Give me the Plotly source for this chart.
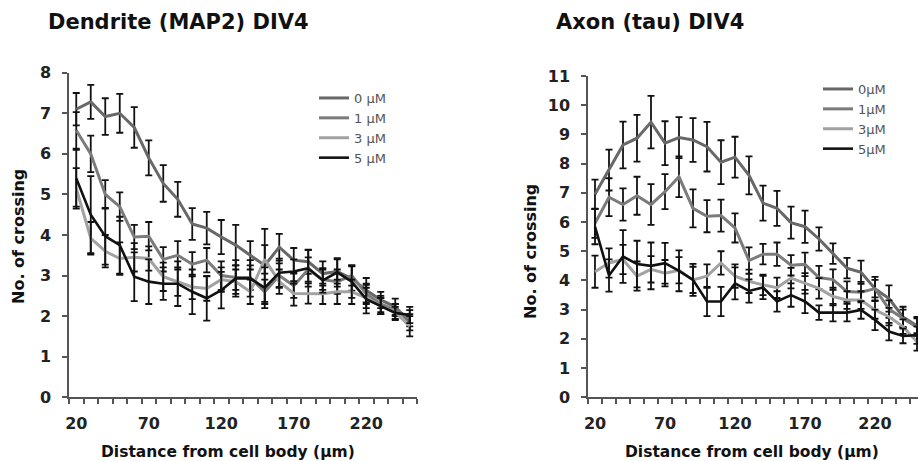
import plotly.graph_objects as go

W, H = 918, 461

distance = list(range(20, 251, 10))
x_ticks = [20, 70, 120, 170, 220]
legend_names_d = ["0 μM", "1 μM", "3 μM", "5 μM"]
legend_names_a = ["0μM", "1μM", "3μM", "5μM"]

# Dendrite (MAP2) DIV4
dend_0 = [7.1, 7.28, 6.92, 7.0, 6.65, 5.9, 5.27, 4.88, 4.27, 4.17, 3.95, 3.75, 3.5, 3.25, 3.7, 3.38, 3.34, 3.05, 3.1, 2.93, 2.64, 2.4, 2.23, 1.85]
dend_0_err = [0.4, 0.42, 0.45, 0.48, 0.5, 0.43, 0.45, 0.43, 0.39, 0.4, 0.42, 0.5, 0.35, 0.9, 0.33, 0.3, 0.3, 0.3, 0.3, 0.3, 0.3, 0.2, 0.2, 0.2]
dend_1 = [6.58, 6.0, 5.0, 4.7, 3.95, 3.97, 3.4, 3.5, 3.28, 3.38, 3.0, 2.95, 2.95, 2.6, 3.0, 2.75, 3.15, 2.9, 2.85, 3.0, 2.55, 2.3, 2.15, 1.95]
dend_1_err = [0.45, 0.45, 0.35, 0.35, 0.3, 0.35, 0.3, 0.35, 0.3, 0.3, 0.35, 0.3, 0.3, 0.3, 0.3, 0.3, 0.3, 0.25, 0.3, 0.25, 0.25, 0.2, 0.15, 0.2]
dend_3 = [5.15, 3.92, 3.6, 3.42, 3.45, 3.42, 2.97, 2.85, 2.72, 2.68, 2.9, 2.85, 2.6, 3.4, 2.85, 2.56, 2.56, 2.55, 2.6, 2.6, 2.45, 2.25, 2.1, 1.75]
dend_3_err = [0.5, 0.4, 0.4, 0.4, 0.35, 0.3, 0.35, 0.35, 0.3, 0.3, 0.3, 0.3, 0.3, 0.35, 0.3, 0.3, 0.25, 0.25, 0.3, 0.3, 0.25, 0.2, 0.2, 0.25]
dend_5 = [5.4, 4.5, 3.97, 3.75, 2.97, 2.85, 2.8, 2.8, 2.6, 2.44, 2.64, 2.93, 2.93, 2.7, 3.07, 3.1, 3.18, 2.88, 3.08, 2.85, 2.42, 2.25, 2.08, 2.03]
dend_5_err = [0.7, 0.95, 0.7, 0.7, 0.6, 0.55, 0.4, 0.55, 0.55, 0.55, 0.45, 0.45, 0.45, 0.5, 0.35, 0.3, 0.45, 0.3, 0.35, 0.4, 0.35, 0.2, 0.15, 0.2]

# Axon (tau) DIV4
axon_0 = [6.95, 7.78, 8.64, 8.87, 9.42, 8.7, 8.89, 8.81, 8.58, 8.05, 8.22, 7.6, 6.65, 6.47, 5.98, 5.84, 5.42, 4.92, 4.42, 4.28, 3.72, 3.38, 2.75, 2.45]
axon_0_err = [0.5, 0.7, 0.8, 0.8, 0.9, 0.75, 0.7, 0.75, 0.85, 0.75, 0.7, 0.65, 0.6, 0.6, 0.55, 0.55, 0.4, 0.35, 0.35, 0.4, 0.4, 0.45, 0.35, 0.3]
axon_1 = [5.96, 6.85, 6.6, 6.9, 6.6, 7.04, 7.55, 6.47, 6.2, 6.22, 5.8, 4.68, 4.9, 4.9, 4.52, 4.55, 4.1, 4.03, 3.62, 3.6, 3.72, 3.02, 2.7, 2.4]
axon_1_err = [0.5, 0.65, 0.55, 0.65, 0.7, 0.6, 0.7, 0.65, 0.55, 0.55, 0.5, 0.45, 0.35, 0.4, 0.35, 0.4, 0.4, 0.35, 0.35, 0.35, 0.3, 0.3, 0.3, 0.3]
axon_3 = [4.3, 4.6, 4.72, 4.15, 4.38, 4.25, 4.35, 4.02, 4.15, 4.6, 4.15, 3.97, 3.85, 3.75, 4.08, 3.9, 3.73, 3.45, 3.33, 3.33, 2.99, 2.76, 2.42, 1.9]
axon_3_err = [0.55, 0.5, 0.5, 0.5, 0.45, 0.45, 0.45, 0.45, 0.4, 0.4, 0.4, 0.4, 0.35, 0.35, 0.35, 0.35, 0.35, 0.3, 0.3, 0.3, 0.3, 0.3, 0.25, 0.3]
axon_5 = [5.84, 4.17, 4.82, 4.56, 4.5, 4.59, 4.33, 4.02, 3.28, 3.28, 3.9, 3.64, 3.76, 3.28, 3.5, 3.28, 2.9, 2.9, 2.9, 2.99, 2.65, 2.25, 2.1, 2.13]
axon_5_err = [0.6, 0.55, 0.9, 0.8, 0.8, 0.7, 0.7, 0.55, 0.5, 0.5, 0.55, 0.4, 0.4, 0.35, 0.4, 0.4, 0.25, 0.3, 0.3, 0.3, 0.35, 0.3, 0.25, 0.3]

colors = ["#686868", "#7b7b7b", "#a2a2a2", "#111111"]
widths = [3, 3, 3, 2.6]
FONT = "DejaVu Sans"

fig = go.Figure()

def add_series(ys, errs, names, xa, ya, leg):
    for y, e, n, c, w in zip(ys, errs, names, colors, widths):
        fig.add_trace(go.Scatter(
            x=distance, y=y, mode="lines", name=n,
            line=dict(color=c, width=w),
            error_y=dict(type="data", array=e, visible=True, color="#111111", thickness=1.8, width=3.5),
            xaxis=xa, yaxis=ya, legend=leg,
        ))

add_series([dend_0, dend_1, dend_3, dend_5], [dend_0_err, dend_1_err, dend_3_err, dend_5_err],
           legend_names_d, "x", "y", "legend")
add_series([axon_0, axon_1, axon_3, axon_5], [axon_0_err, axon_1_err, axon_3_err, axon_5_err],
           legend_names_a, "x2", "y2", "legend2")

def px_x(p):
    return p / W

def px_y(p):
    return 1 - p / H

axis_common = dict(showline=True, linecolor="#555555", linewidth=1.5, showgrid=False, zeroline=False,
                   automargin=False,
                   tickfont=dict(family=FONT, size=16, color="#222222", weight="bold"))

x_common = dict(axis_common, tickmode="array", tickvals=x_ticks, ticks="", ticklabelstandoff=11,
                minor=dict(tick0=15, dtick=10, ticks="outside", ticklen=5, tickwidth=1.5,
                           tickcolor="#555555", showgrid=False))
y_common = dict(axis_common, ticks="outside", ticklen=5, tickwidth=1.5, tickcolor="#555555", dtick=1,
                ticklabelstandoff=8)

fig.update_layout(
    width=W, height=H, margin=dict(l=0, r=0, t=0, b=0, autoexpand=False),
    paper_bgcolor="white", plot_bgcolor="white",
    showlegend=True,
    xaxis=dict(x_common, domain=[px_x(69), px_x(417)], range=[15, 255], anchor="y"),
    yaxis=dict(y_common, domain=[px_y(397.3), px_y(72.7)], range=[0, 8], anchor="x"),
    xaxis2=dict(x_common, domain=[px_x(588), 1.0], range=[15, 15 + (918 - 588) / 14 * 10], anchor="y2"),
    yaxis2=dict(y_common, domain=[px_y(397.3), px_y(76)], range=[0, 11], anchor="x2"),
    legend=dict(x=px_x(314), y=px_y(83), xanchor="left", yanchor="top", bgcolor="rgba(0,0,0,0)",
                font=dict(family=FONT, size=13, color="#555555"), tracegroupgap=0, itemwidth=30),
    legend2=dict(x=px_x(818), y=px_y(74), xanchor="left", yanchor="top", bgcolor="rgba(0,0,0,0)",
                 font=dict(family=FONT, size=13, color="#555555"), tracegroupgap=0, itemwidth=30),
)

def ann(text, x, y, size, xanchor="center", angle=0):
    fig.add_annotation(text=text, x=px_x(x), y=px_y(y), xref="paper", yref="paper",
                       xanchor=xanchor, yanchor="middle", showarrow=False, textangle=angle,
                       font=dict(family=FONT, size=size, color="#111111", weight="bold"))

ann("Dendrite (MAP2) DIV4", 46, 22, 21, xanchor="left")
ann("Axon (tau) DIV4", 554, 22, 21, xanchor="left")
ann("No. of crossing", 18, 237, 16, angle=-90)
ann("No. of crossing", 531, 252, 16, angle=-90)
ann("Distance from cell body (µm)", 228, 452, 15.5)
ann("Distance from cell body (µm)", 752, 452, 15.5)

fig.write_html("out.html", config={"displayModeBar": False},
               post_script="document.body.style.margin='0px';document.body.style.overflow='hidden';")
